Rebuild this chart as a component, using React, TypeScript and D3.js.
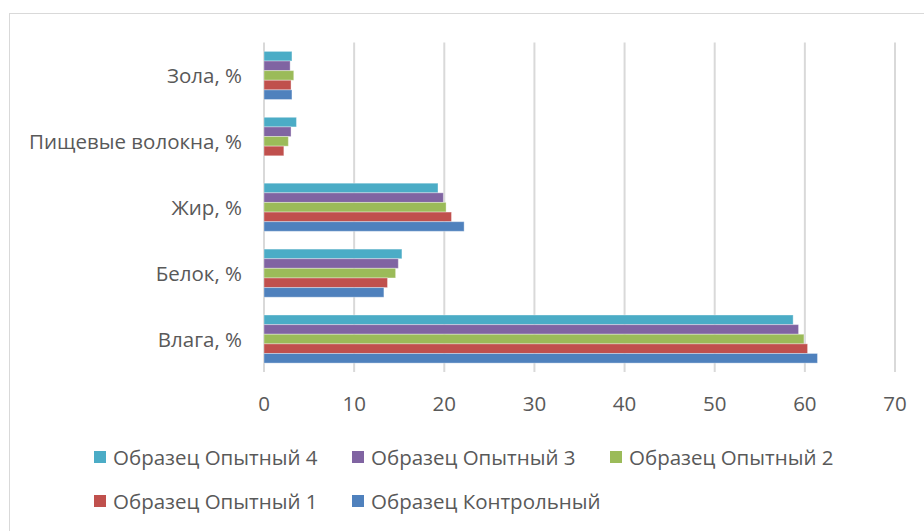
import React from "react";
import * as d3 from "d3";

const categories = ["Зола, %", "Пищевые волокна, %", "Жир, %", "Белок, %", "Влага, %"];
const seriesNames = [
  "Образец Опытный 4",
  "Образец Опытный 3",
  "Образец Опытный 2",
  "Образец Опытный 1",
  "Образец Контрольный",
];
const seriesColors = ["#4BACC6", "#8064A2", "#9BBB59", "#C0504D", "#4F81BD"];
// values per series, in category order
const op4 = [3.1, 3.6, 19.3, 15.3, 58.7];
const op3 = [2.9, 3.0, 19.9, 14.9, 59.3];
const op2 = [3.3, 2.7, 20.2, 14.6, 59.9];
const op1 = [3.0, 2.2, 20.8, 13.7, 60.3];
const ctrl = [3.1, 0, 22.2, 13.3, 61.4];
const seriesValues = [op4, op3, op2, op1, ctrl];
const xTicks = [0, 10, 20, 30, 40, 50, 60, 70];

const W = 924;
const H = 531;
const FONT = "'Open Sans', sans-serif";
const TEXT = "#595959";
const FS = 20.5;

export default function App() {
  const x = d3.scaleLinear().domain([0, 70]).range([264, 895]);
  const y = d3.scaleBand<string>().domain(categories).range([42.5, 372]).paddingInner(0.27).paddingOuter(0.135);
  const inner = d3.scaleBand<string>().domain(seriesNames).range([0, y.bandwidth()]);

  const legendRows = [
    [0, 1, 2],
    [3, 4],
  ];
  const legendX = [94, 352, 610];
  const legendY = [457, 501];

  return (
    <svg
      width={W}
      height={H}
      style={{ position: "absolute", left: 0, top: 0, display: "block" }}
      fontFamily={FONT}
    >
      <rect x={0} y={0} width={W} height={H} fill="#fff" />
      <rect x={9.5} y={13.5} width={W} height={H} fill="none" stroke="#d9d9d9" strokeWidth={1} />
      {xTicks.map((t) => (
        <line key={t} x1={x(t)} x2={x(t)} y1={42.5} y2={372} stroke="#d9d9d9" strokeWidth={2} />
      ))}
      {seriesNames.map((s, si) =>
        categories.map((c, ci) => {
          const v = seriesValues[si][ci];
          if (!v) return null;
          return (
            <rect
              key={s + c}
              x={x(0)}
              y={(y(c) ?? 0) + (inner(s) ?? 0)}
              width={x(v) - x(0)}
              height={inner.bandwidth()}
              fill={seriesColors[si]}
              stroke="#ffffff"
              strokeOpacity={0.35}
              strokeWidth={1}
            />
          );
        })
      )}
      {categories.map((c) => (
        <text
          key={c}
          x={242}
          y={(y(c) ?? 0) + y.bandwidth() / 2}
          textAnchor="end"
          dominantBaseline="central"
          fontSize={FS}
          fill={TEXT}
        >
          {c}
        </text>
      ))}
      {xTicks.map((t) => (
        <text key={t} x={x(t)} y={403} textAnchor="middle" dominantBaseline="central" fontSize={FS} fill={TEXT}>
          {t}
        </text>
      ))}
      {legendRows.map((row, ri) =>
        row.map((si, k) => (
          <g key={si} transform={`translate(${legendX[k]},${legendY[ri]})`}>
            <rect x={0} y={-6} width={12} height={12} fill={seriesColors[si]} />
            <text x={19} y={0} dominantBaseline="central" fontSize={FS} fill={TEXT}>
              {seriesNames[si]}
            </text>
          </g>
        ))
      )}
    </svg>
  );
}
